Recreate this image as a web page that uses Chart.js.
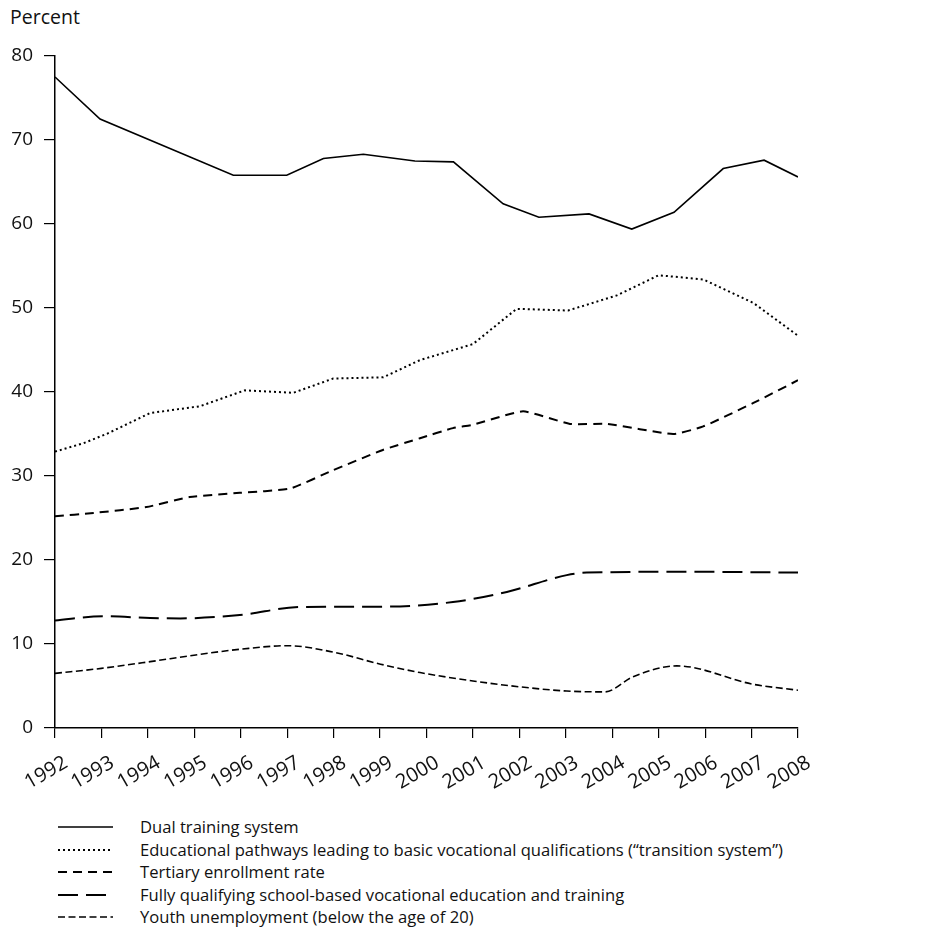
<!DOCTYPE html>
<html>
<head>
<meta charset="utf-8">
<script src="https://cdn.jsdelivr.net/npm/chart.js@4"></script>
<style>
  body { margin: 0; background: #fff; font-family: "Open Sans", sans-serif; color: #111; }
  #wrap { position: relative; width: 950px; height: 938px; }
  #unit { position: absolute; left: 10px; top: 3px; font-size: 19.5px; }
  #chartBox { position: absolute; left: 0; top: 0; width: 950px; height: 800px; }
  #legend { position: absolute; left: 58px; top: 816px; font-size: 16.6px; line-height: 22.5px; }
  .row { display: flex; align-items: center; height: 22.5px; }
  .row svg { width: 55px; height: 10px; margin-right: 27px; }
</style>
</head>
<body>
<div id="wrap">
  <div id="unit">Percent</div>
  <div id="chartBox"><canvas id="chart" width="950" height="800"></canvas></div>
  <div id="legend"></div>
</div>
<script>
// values (x = year position, y = percent)
const dualX = [1992, 1992.97, 1995.84, 1996.99, 1997.78, 1998.64, 1999.75, 2000.58, 2001.65, 2002.42, 2003.5, 2004.42, 2005.33, 2006.39, 2007.27, 2008];
const dualY = [77.5, 72.5, 65.8, 65.8, 67.8, 68.3, 67.5, 67.4, 62.4, 60.8, 61.2, 59.4, 61.4, 66.6, 67.6, 65.6];

const transX = [1992, 1992.61, 1993.11, 1994.05, 1995.12, 1996.09, 1997.13, 1997.99, 1999.07, 1999.86, 2001.0, 2001.94, 2003.05, 2004.1, 2005.0, 2005.96, 2007.04, 2008];
const transY = [32.9, 33.9, 35.0, 37.5, 38.3, 40.2, 39.9, 41.6, 41.75, 43.8, 45.7, 49.9, 49.7, 51.5, 53.9, 53.4, 50.6, 46.7];

const tertX = [1992, 1992.83, 1993.97, 1994.9, 1995.98, 1997.06, 1997.99, 1999.06, 1999.86, 2000.57, 2001.0, 2002.08, 2003.09, 2003.88, 2005.31, 2005.96, 2007.04, 2008];
const tertY = [25.2, 25.6, 26.3, 27.5, 28.0, 28.5, 30.7, 33.1, 34.5, 35.7, 36.1, 37.7, 36.2, 36.2, 35.0, 35.9, 38.7, 41.4];

const schoolX = [1992, 1993.04, 1994.05, 1994.7, 1995.98, 1997.28, 1999.2, 2000.57, 2001.73, 2003.02, 2003.45, 2005.6, 2008];
const schoolY = [12.8, 13.3, 13.1, 13.05, 13.45, 14.4, 14.45, 15.0, 16.2, 18.2, 18.5, 18.6, 18.5];

const youthX = [1992, 1993, 1994.05, 1995.03, 1996.03, 1997, 1998.02, 1999.01, 1999.86, 2001, 2002.01, 2003.02, 2003.84, 2004.45, 2005.39, 2007.04, 2008];
const youthY = [6.5, 7.1, 7.9, 8.7, 9.4, 9.8, 9.0, 7.6, 6.6, 5.6, 4.9, 4.4, 4.3, 6.1, 7.4, 5.2, 4.5];

const labels = [
  'Dual training system',
  'Educational pathways leading to basic vocational qualifications (\u201Ctransition system\u201D)',
  'Tertiary enrollment rate',
  'Fully qualifying school-based vocational education and training',
  'Youth unemployment (below the age of 20)'
];

const yearMin = 1992, yearMax = 2008;
const yTicks = [0, 10, 20, 30, 40, 50, 60, 70, 80];

function pts(xs, ys) {
  return xs.map((x, i) => ({ x: x, y: ys[i] }));
}

const styles = [
  { dash: [], width: 1.6, tension: 0 },
  { dash: [2, 3], width: 2, tension: 0 },
  { dash: [9, 6], width: 2, tension: 0.15 },
  { dash: [20, 8], width: 2, smooth: true },
  { dash: [7, 3.5], width: 1.6, smooth: true }
];

const series = [pts(dualX, dualY), pts(transX, transY), pts(tertX, tertY), pts(schoolX, schoolY), pts(youthX, youthY)];

const font = { family: '"Open Sans", sans-serif', size: 20 };

new Chart(document.getElementById('chart'), {
  type: 'line',
  data: {
    datasets: series.map((d, i) => ({
      label: labels[i],
      data: d,
      borderColor: '#000',
      borderWidth: styles[i].width,
      borderDash: styles[i].dash,
      tension: styles[i].tension || 0,
      cubicInterpolationMode: styles[i].smooth ? 'monotone' : 'default',
      pointRadius: 0,
      fill: false
    }))
  },
  options: {
    responsive: false,
    animation: false,
    layout: { padding: { top: 56, right: 152, left: 0, bottom: 0 } },
    plugins: { legend: { display: false }, tooltip: { enabled: false } },
    scales: {
      x: {
        type: 'linear',
        min: yearMin,
        max: yearMax,
        afterFit: s => { s.height = 72; },
        afterBuildTicks: s => { s.ticks = []; for (let y = yearMin; y <= yearMax; y++) s.ticks.push({ value: y }); },
        ticks: {
          callback: v => String(v),
          autoSkip: false,
          minRotation: 30,
          maxRotation: 30,
          labelOffset: 11,
          padding: 13,
          color: '#111',
          font: font
        },
        grid: { drawOnChartArea: false, drawTicks: true, tickLength: 10, color: '#000', lineWidth: 1.2 },
        border: { display: true, color: '#000', width: 1.5 }
      },
      y: {
        min: 0,
        max: 80,
        afterFit: s => { s.width = 55; },
        afterBuildTicks: s => { s.ticks = yTicks.map(v => ({ value: v })); },
        ticks: { padding: 11, color: '#111', font: { family: font.family, size: 19 } },
        grid: { drawOnChartArea: false, drawTicks: true, tickLength: 11, color: '#000', lineWidth: 1.2 },
        border: { display: true, color: '#000', width: 1.5 }
      }
    }
  }
});

// legend below the plot
const legend = document.getElementById('legend');
labels.forEach((t, i) => {
  const row = document.createElement('div');
  row.className = 'row';
  const dash = styles[i].dash.join(' ');
  row.innerHTML = '<svg viewBox="0 0 55 10"><line x1="0" y1="5" x2="55" y2="5" stroke="#000" stroke-width="' +
    styles[i].width + '" stroke-dasharray="' + (dash || 'none') + '"/></svg><span>' + t + '</span>';
  legend.appendChild(row);
});
</script>
</body>
</html>
